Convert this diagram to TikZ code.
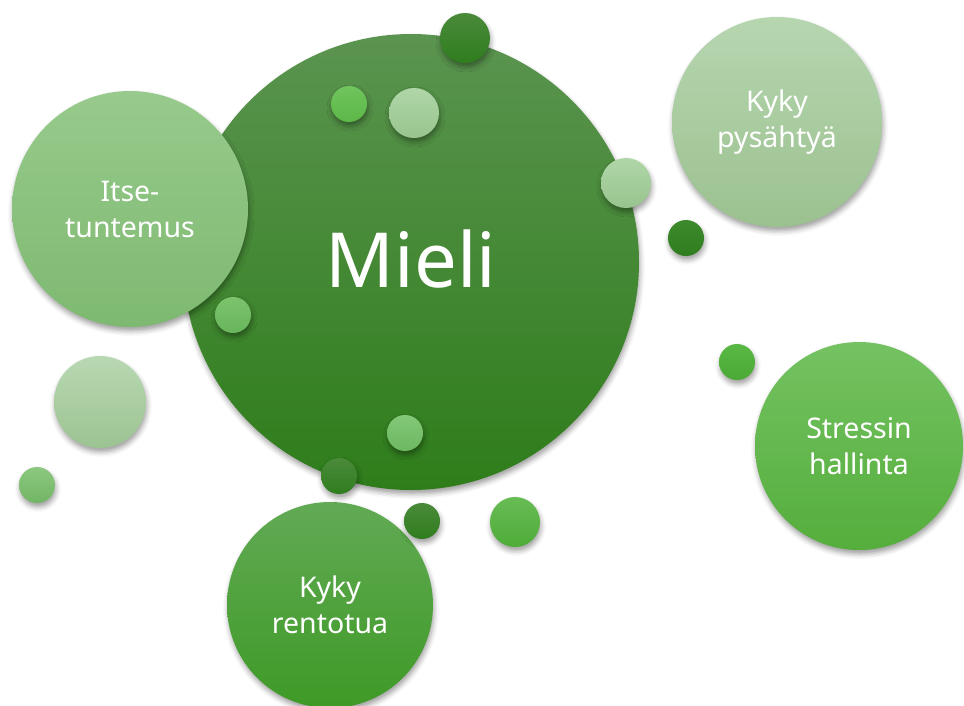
\documentclass[tikz,border=0pt]{standalone}
\usepackage{fontspec}
\setmainfont{Noto Sans}
\usetikzlibrary{shadows.blur}
\definecolor{mieA}{HTML}{5B9450}\definecolor{mieB}{HTML}{2E7D1A}
\definecolor{itsA}{HTML}{97CA8C}\definecolor{itsB}{HTML}{7EB971}
\definecolor{pysA}{HTML}{B6D6B0}\definecolor{pysB}{HTML}{9CC190}
\definecolor{strA}{HTML}{74C262}\definecolor{strB}{HTML}{55AE3C}
\definecolor{renA}{HTML}{62AA55}\definecolor{renB}{HTML}{3E9A26}
\definecolor{drkA}{HTML}{4A8A3A}\definecolor{drkB}{HTML}{2F7D1E}
\definecolor{ligA}{HTML}{70C45C}\definecolor{ligB}{HTML}{5CB848}
\definecolor{palA}{HTML}{B0D6A8}\definecolor{palB}{HTML}{98C48E}
\definecolor{medA}{HTML}{7CC46C}\definecolor{medB}{HTML}{68B55A}
\definecolor{mdlA}{HTML}{84C878}\definecolor{mdlB}{HTML}{6CB860}
\definecolor{dk2A}{HTML}{3C8A2C}\definecolor{dk2B}{HTML}{2F7D1F}
\definecolor{brgA}{HTML}{5AB844}\definecolor{brgB}{HTML}{4AAA35}
\definecolor{br2A}{HTML}{68BC55}\definecolor{br2B}{HTML}{4EAC38}
\definecolor{pl2A}{HTML}{B8D8B2}\definecolor{pl2B}{HTML}{9CC392}
\definecolor{lt2A}{HTML}{8CC880}\definecolor{lt2B}{HTML}{72B565}
\tikzset{
  bub/.style args={#1/#2/#3}{circle, inner sep=0pt, minimum size=#1, top color=#2, bottom color=#3, draw=none,
    blur shadow={shadow xshift=1pt, shadow yshift=-4pt, shadow blur radius=5pt, shadow opacity=38},
    text=white, align=center, font=\fontsize{28.5}{36}\selectfont},
}
\begin{document}
\begin{tikzpicture}[x=1pt,y=-1pt]
\useasboundingbox (0,0) rectangle (964,705);
\clip (0,0) rectangle (964,705);
% main
\node[bub={456pt/mieA/mieB}, font=\fontsize{76}{80}\selectfont, text height=50pt, text depth=0pt] (mieli) at (411,262) {Mieli};
\node[bub={236pt/itsA/itsB}] (itse) at (130,209) {Itse-\\tuntemus};
\node[bub={210pt/pysA/pysB}] (pysa) at (777,122) {Kyky\\pysähtyä};
\node[bub={208pt/strA/strB}] (stress) at (859,446) {Stressin\\hallinta};
\node[bub={206pt/renA/renB}] (rento) at (330,605) {Kyky\\rentotua};
% small bubbles
\node[bub={50pt/drkA/drkB}] (s1) at (465,38) {};
\node[bub={36pt/ligA/ligB}] (s2) at (349,104) {};
\node[bub={50pt/palA/palB}] (s3) at (414,113) {};
\node[bub={50pt/palA/palB}] (s4) at (626,183) {};
\node[bub={36pt/medA/medB}] (s5) at (233,315) {};
\node[bub={36pt/mdlA/mdlB}] (s6) at (405,433) {};
\node[bub={36pt/drkA/drkB}] (s7) at (339,476) {};
\node[bub={36pt/dk2A/dk2B}] (s8) at (686,238) {};
\node[bub={36pt/brgA/brgB}] (s9) at (737,362) {};
\node[bub={36pt/drkA/drkB}] (s10) at (422,521) {};
\node[bub={50pt/br2A/br2B}] (s11) at (515,522) {};
\node[bub={92pt/pl2A/pl2B}] (s12) at (100,402) {};
\node[bub={36pt/lt2A/lt2B}] (s13) at (37,485) {};
\end{tikzpicture}
\end{document}
